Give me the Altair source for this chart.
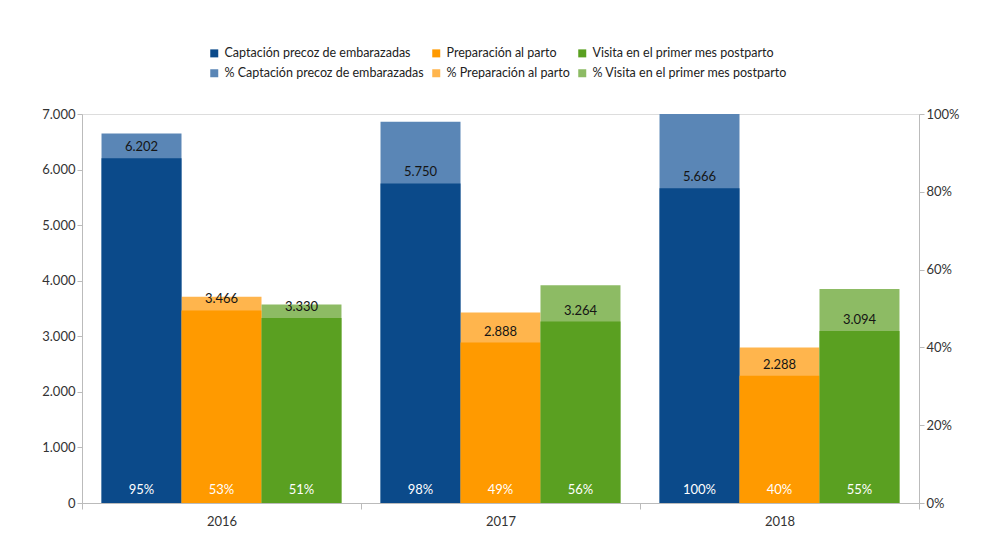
import altair as alt
import pandas as pd

anios = ["2016", "2017", "2018"]
categorias = ["Captación precoz de embarazadas", "Preparación al parto", "Visita en el primer mes postparto"]
valores = {
    "Captación precoz de embarazadas": [6202, 5750, 5666],
    "Preparación al parto": [3466, 2888, 2288],
    "Visita en el primer mes postparto": [3330, 3264, 3094],
}
porcentajes = {
    "Captación precoz de embarazadas": [0.95, 0.98, 1.00],
    "Preparación al parto": [0.53, 0.49, 0.40],
    "Visita en el primer mes postparto": [0.51, 0.56, 0.55],
}
series = categorias + ["% " + c for c in categorias]
colores = ["#0b4a8a", "#ff9a00", "#5aa021", "#5a86b6", "#ffb54d", "#8dbb64"]

rows = []
for c in categorias:
    for i, a in enumerate(anios):
        rows.append({"anio": a, "categoria": c,
                     "valor": valores[c][i], "pct": porcentajes[c][i]})
df = pd.DataFrame(rows)

FONT = "Lato"
x_enc = alt.X("anio:N", title=None,
              scale=alt.Scale(paddingInner=0, paddingOuter=0),
              axis=alt.Axis(labelAngle=0, tickBand="extent", domainColor="#bbbbbb",
                            tickColor="#bbbbbb", tickSize=6, labelPadding=6,
                            labelFontSize=13, labelColor="#333333"))
xo_enc = alt.XOffset("categoria:N", sort=categorias,
                     scale=alt.Scale(paddingInner=0, paddingOuter=0.244))
color_enc = alt.Color("serie:N", scale=alt.Scale(domain=series, range=colores),
                      legend=alt.Legend(title=None, orient="none", legendX=126, legendY=-67,
                                        direction="horizontal", columns=3,
                                        symbolType="square", symbolSize=64,
                                        symbolStrokeWidth=0, labelFontSize=12.5,
                                        labelFont=FONT, labelColor="#222222",
                                        columnPadding=6, rowPadding=7, labelOffset=4,
                                        labelLimit=400))

base = alt.Chart(df)

pct_bars = base.transform_calculate(serie="'% ' + datum.categoria").mark_bar().encode(
    x=x_enc, xOffset=xo_enc,
    y=alt.Y("pct:Q", title=None,
            scale=alt.Scale(domain=[0, 1], nice=False),
            axis=alt.Axis(orient="right", format=".0%", values=[0, 0.2, 0.4, 0.6, 0.8, 1.0],
                          grid=False, domainColor="#bbbbbb", tickColor="#bbbbbb",
                          tickSize=5, labelFontSize=13, labelColor="#333333")),
    color=color_enc,
)

y_abs = alt.Y("valor:Q", title=None,
              scale=alt.Scale(domain=[0, 7000], nice=False),
              axis=alt.Axis(orient="left", values=[0, 1000, 2000, 3000, 4000, 5000, 6000, 7000],
                            labelExpr="replace(format(datum.value, ','), ',', '.')",
                            grid=False, domainColor="#bbbbbb", tickColor="#bbbbbb",
                            tickSize=5, labelFontSize=13, labelColor="#333333"))

abs_bars = base.transform_calculate(serie="datum.categoria").mark_bar().encode(
    x=x_enc, xOffset=xo_enc, y=y_abs, color=color_enc)

val_text = base.transform_calculate(
    etiqueta="replace(format(datum.valor, ','), ',', '.')"
).mark_text(dy=-11, fontSize=13, font=FONT, color="#151515", baseline="middle").encode(
    x=x_enc, xOffset=xo_enc, y=y_abs, text="etiqueta:N")

pct_text = base.mark_text(dy=-13, fontSize=13, font=FONT, color="white",
                          baseline="middle").encode(
    x=x_enc, xOffset=xo_enc, y=alt.datum(0), text=alt.Text("pct:Q", format=".0%"))

front = alt.layer(abs_bars, val_text, pct_text)

chart = alt.layer(pct_bars, front).resolve_scale(y="independent").properties(
    width=837, height=389,
    autosize=alt.AutoSizeParams(type="none"),
    padding={"left": 74, "top": 106, "right": 55, "bottom": 27},
).configure_view(stroke="transparent").configure(font=FONT)

chart.save("out.html", embed_options={"renderer": "svg", "actions": False})
